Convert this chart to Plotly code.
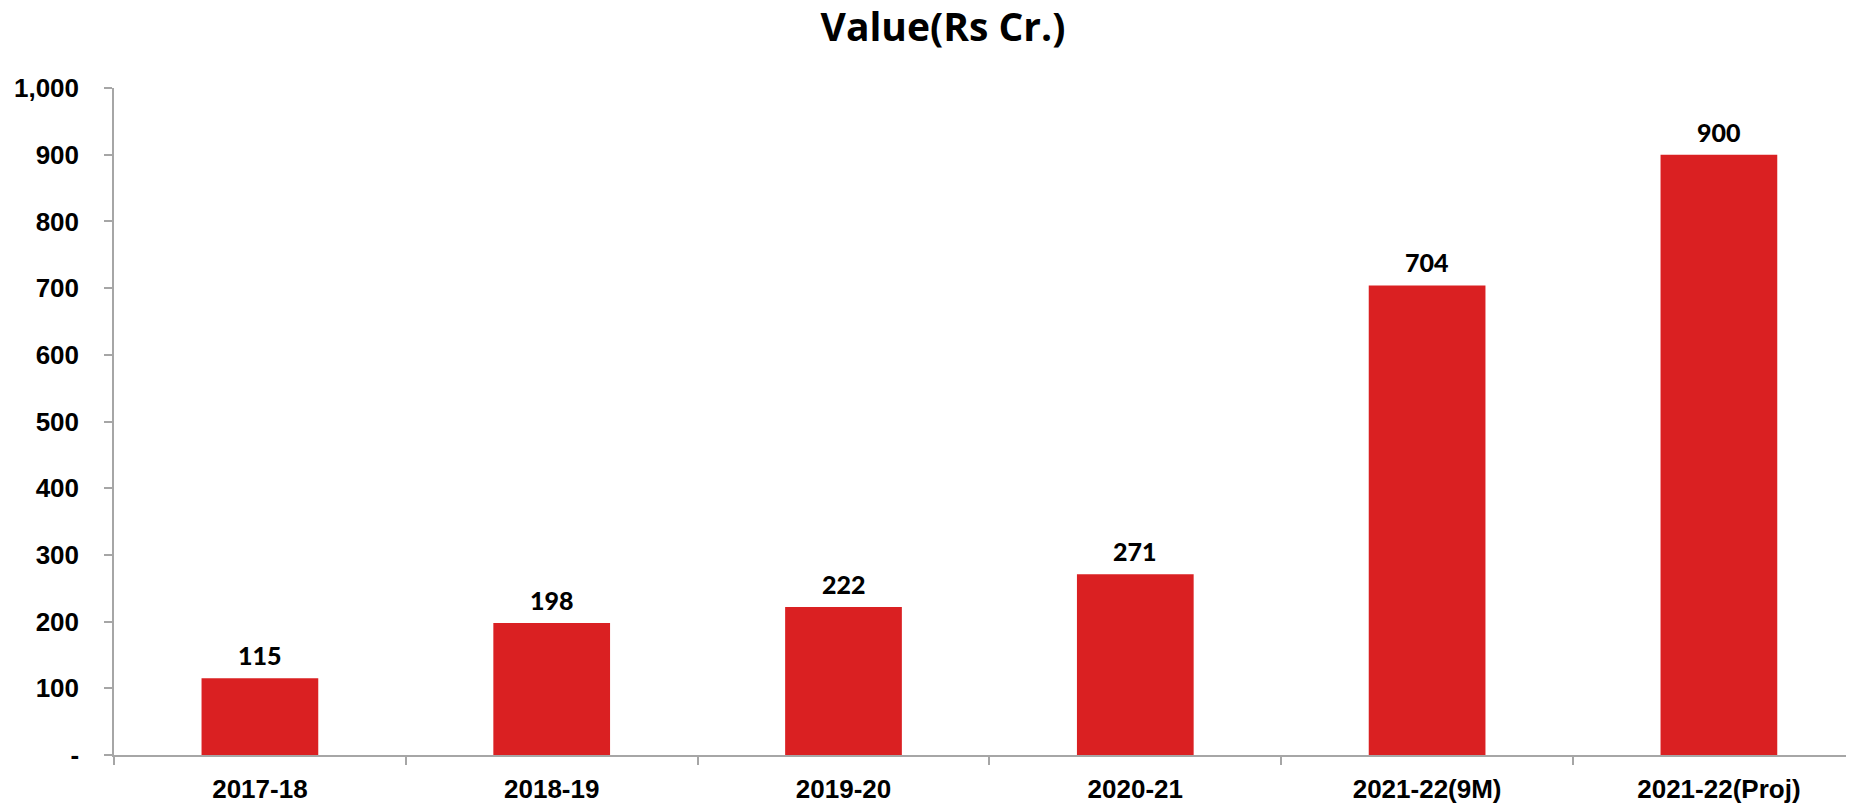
import plotly.graph_objects as go

categories = ["2017-18", "2018-19", "2019-20", "2020-21", "2021-22(9M)", "2021-22(Proj)"]
values = [115, 198, 222, 271, 704, 900]
y_tickvals = [0, 100, 200, 300, 400, 500, 600, 700, 800, 900, 1000]
y_ticktext = ["-", "100", "200", "300", "400", "500", "600", "700", "800", "900", "1,000"]

AX = "#a6a6a6"
W, H = 1846, 796  # page body has an 8px margin
fig = go.Figure()
fig.add_trace(go.Bar(x=categories, y=values, marker=dict(color="#DA2022", line=dict(width=0)),
                     hoverinfo="skip"))

for c, v in zip(categories, values):
    fig.add_annotation(x=c, y=v, text=str(v), showarrow=False, yanchor="bottom", yshift=6,
                       font=dict(family="Lato", size=25, color="black", weight=900))

fig.update_layout(
    width=W, height=H,
    margin=dict(l=106, r=0, t=80, b=49, autoexpand=False),
    paper_bgcolor="white", plot_bgcolor="white",
    bargap=0.6, showlegend=False,
    title=dict(text="<b>Value(Rs Cr.)</b>", x=935 / W, xanchor="center", y=1 - 19 / H,
               yanchor="middle", font=dict(family="Open Sans", size=39, color="black")),
)
fig.update_xaxes(type="category", range=[-0.5, 5.463], tickson="boundaries", ticks="outside",
                 ticklen=8, tickcolor=AX, tickwidth=1.5, showline=True, linecolor=AX, linewidth=1.5,
                 showgrid=False, ticklabelstandoff=10, automargin=False,
                 tickfont=dict(family="Liberation Sans", size=26, color="black", weight="bold"))
fig.update_yaxes(range=[0, 1000], tickvals=y_tickvals, ticktext=y_ticktext, ticks="outside",
                 ticklen=8, tickcolor=AX, tickwidth=1.5, showline=True, linecolor=AX, linewidth=1.5,
                 showgrid=False, zeroline=False, ticklabelstandoff=20, automargin=False,
                 tickfont=dict(family="Liberation Sans", size=26, color="black", weight="bold"))

fig.write_html("out.html")
